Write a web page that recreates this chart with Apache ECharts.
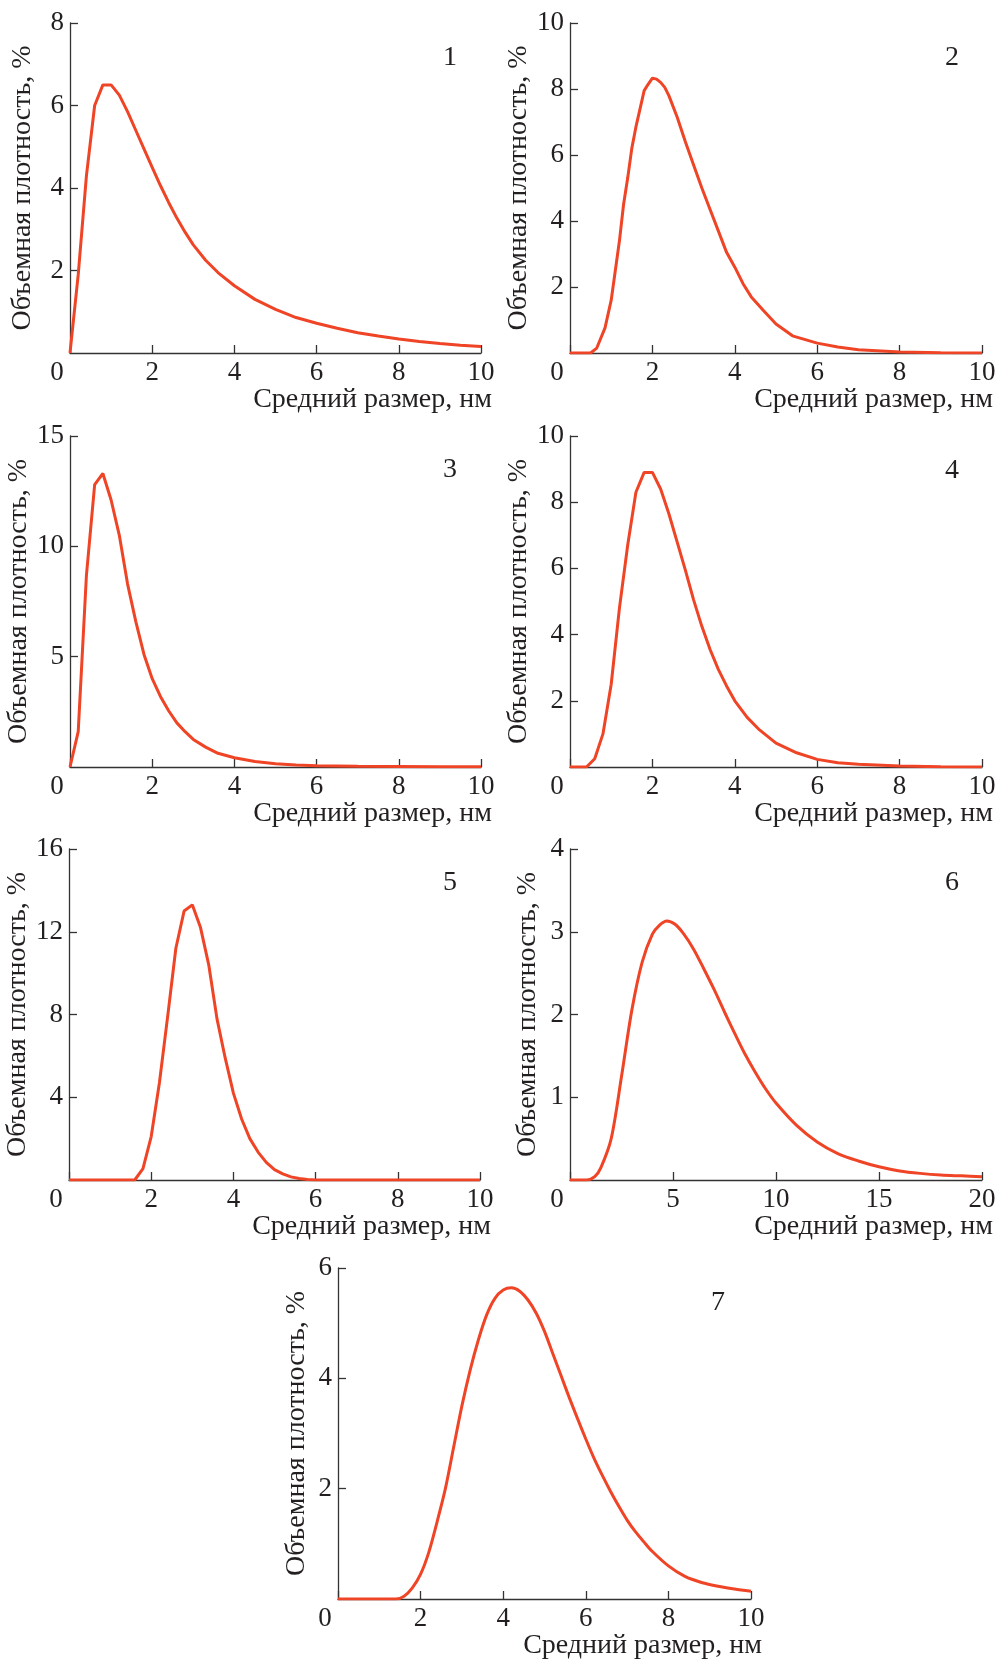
<!DOCTYPE html>
<html>
<head>
<meta charset="utf-8">
<script src="https://cdn.jsdelivr.net/npm/echarts/dist/echarts.min.js"></script>
<style>
  html, body { margin: 0; padding: 0; background: #fff; }
  #chart { width: 1000px; height: 1663px; }
</style>
</head>
<body>
<div id="chart"></div>
<script>
// размеры, нм и объемная плотность, % (по графикам 1-7)
const x1 = [0,0.2,0.4,0.6,0.8,1.0,1.2,1.4,1.6,1.8,2.0,2.2,2.4,2.6,2.8,3.0,3.3,3.6,4.0,4.5,5.0,5.5,6.0,6.5,7.0,7.5,8.0,8.5,9.0,9.5,10];
const y1 = [0,1.9,4.3,6.0,6.5,6.5,6.25,5.85,5.4,4.95,4.5,4.06,3.65,3.27,2.93,2.62,2.25,1.95,1.63,1.3,1.06,0.86,0.72,0.6,0.49,0.41,0.34,0.28,0.23,0.19,0.16];

const x2 = [0,0.5,0.65,0.85,1.0,1.1,1.2,1.3,1.4,1.5,1.6,1.7,1.8,1.9,2.0,2.1,2.2,2.3,2.4,2.6,2.8,3.0,3.2,3.4,3.6,3.8,4.0,4.2,4.4,4.7,5.0,5.4,6.0,6.5,7,8,9,10];
const y2 = [0,0,0.15,0.76,1.6,2.5,3.4,4.5,5.3,6.2,6.85,7.4,7.95,8.15,8.33,8.3,8.2,8.05,7.8,7.15,6.4,5.7,5.0,4.35,3.7,3.05,2.6,2.1,1.7,1.28,0.88,0.52,0.3,0.18,0.1,0.03,0.01,0];

const x3 = [0,0.2,0.4,0.6,0.8,1.0,1.2,1.4,1.6,1.8,2.0,2.2,2.4,2.6,2.8,3.0,3.3,3.6,4.0,4.5,5.0,5.5,6,7,8,9,10];
const y3 = [0,1.6,8.7,12.8,13.3,12.1,10.5,8.3,6.6,5.1,4.0,3.2,2.55,2.0,1.6,1.25,0.9,0.62,0.42,0.25,0.15,0.09,0.06,0.03,0.02,0.01,0.01];

const x4 = [0,0.4,0.6,0.8,1.0,1.2,1.4,1.6,1.8,2.0,2.2,2.4,2.6,2.8,3.0,3.2,3.4,3.6,3.8,4.0,4.3,4.6,5.0,5.5,6.0,6.5,7,8,9,10];
const y4 = [0,0,0.25,1.0,2.5,4.8,6.7,8.3,8.9,8.9,8.4,7.65,6.8,5.95,5.05,4.25,3.55,2.95,2.45,2.0,1.5,1.12,0.72,0.43,0.23,0.13,0.08,0.03,0.01,0];

const x5 = [0,1.6,1.8,2.0,2.2,2.4,2.6,2.8,3.0,3.2,3.4,3.6,3.8,4.0,4.2,4.4,4.6,4.8,5.0,5.2,5.4,5.6,5.8,6,7,8,9,10];
const y5 = [0,0,0.55,2.1,4.7,7.9,11.2,13.0,13.3,12.2,10.4,7.8,5.9,4.2,2.95,2.0,1.35,0.85,0.5,0.3,0.15,0.07,0.02,0,0,0,0,0];

const x6 = [0,0.8,1.2,1.5,2,2.5,3,3.5,4,4.35,4.7,5.1,5.5,6,6.5,7,7.5,8,8.5,9,9.5,10,11,12,13,14,15,16,17,18,19,20];
const y6 = [0,0,0.04,0.15,0.5,1.25,2.05,2.63,2.97,3.08,3.13,3.09,2.98,2.79,2.55,2.3,2.03,1.77,1.52,1.3,1.1,0.93,0.66,0.46,0.32,0.23,0.16,0.11,0.08,0.06,0.05,0.04];

const x7 = [0,1.4,1.6,1.8,2.0,2.2,2.4,2.6,2.8,3.0,3.2,3.4,3.6,3.8,4.0,4.2,4.4,4.6,4.8,5.0,5.2,5.4,5.6,5.8,6.0,6.2,6.4,6.6,6.8,7.0,7.2,7.4,7.6,8.0,8.4,8.8,9.2,9.6,10];
const y7 = [0,0,0.05,0.2,0.45,0.85,1.4,2.0,2.75,3.5,4.15,4.7,5.15,5.45,5.6,5.64,5.58,5.42,5.18,4.85,4.45,4.05,3.65,3.27,2.9,2.55,2.24,1.95,1.68,1.43,1.22,1.04,0.87,0.6,0.41,0.3,0.23,0.18,0.14];

// оси
const xMax = [10, 10, 10, 10, 10, 20, 10];
const xStep = [2, 2, 2, 2, 2, 5, 2];
const yMax = [8, 10, 15, 10, 16, 4, 6];
const yStep = [2, 2, 5, 2, 4, 1, 2];
const panelNames = ['1', '2', '3', '4', '5', '6', '7'];

const xTitle = 'Средний размер, нм';
const yTitle = 'Объемная плотность, %';

const xs = [x1, x2, x3, x4, x5, x6, x7];
const ys = [y1, y2, y3, y4, y5, y6, y7];

// положение панелей
const grids = [
  { left: 70, top: 23, width: 411, height: 330 },
  { left: 570, top: 23, width: 412, height: 330 },
  { left: 70, top: 436, width: 411, height: 331 },
  { left: 570, top: 436, width: 412, height: 331 },
  { left: 69, top: 849, width: 411, height: 331 },
  { left: 570, top: 849, width: 412, height: 331 },
  { left: 338, top: 1268, width: 413, height: 331 }
];
const yNameGap = [33, 28, 33, 28, 32, 28, 27];
const labelPos = [[450, 58], [952, 58], [450, 470], [952, 471], [450, 883], [952, 883], [718, 1303]];

const font = 'Liberation Serif';
const ink = '#231f20';
const red = '#ef4426';

const xAxis = [], yAxis = [], series = [], graphic = [];
for (let i = 0; i < 7; i++) {
  xAxis.push({
    type: 'value',
    gridIndex: i,
    min: 0,
    max: xMax[i],
    interval: xStep[i],
    name: xTitle,
    nameLocation: 'end',
    nameGap: 11,
    nameTextStyle: {
      fontFamily: font, fontSize: 28, color: ink,
      align: 'right', verticalAlign: 'top', padding: [33, 0, 0, 0]
    },
    axisLine: { lineStyle: { color: '#333', width: 1.3 } },
    axisTick: { inside: true, length: 8, lineStyle: { color: '#333', width: 1.3 } },
    splitLine: { show: false },
    axisLabel: {
      margin: 6,
      fontFamily: font, fontSize: 27, color: ink,
      formatter: function (v) { return v === 0 ? '{z|0}' : String(v); },
      rich: { z: { fontFamily: font, fontSize: 27, color: ink, padding: [0, 26, 0, 0] } }
    }
  });
  yAxis.push({
    type: 'value',
    gridIndex: i,
    min: 0,
    max: yMax[i],
    interval: yStep[i],
    name: yTitle,
    nameLocation: 'middle',
    nameGap: yNameGap[i],
    nameTextStyle: { fontFamily: font, fontSize: 28, color: ink },
    axisLine: { show: true, lineStyle: { color: '#333', width: 1.3 } },
    axisTick: { show: true, inside: true, length: 8, lineStyle: { color: '#333', width: 1.3 } },
    splitLine: { show: false },
    axisLabel: { margin: 6, showMinLabel: false, fontFamily: font, fontSize: 27, color: ink }
  });
  series.push({
    type: 'line',
    xAxisIndex: i,
    yAxisIndex: i,
    data: xs[i].map((x, k) => [x, ys[i][k]]),
    showSymbol: false,
    smooth: i >= 5 ? 0.3 : false,
    lineStyle: { color: red, width: 3 },
    animation: false
  });
  graphic.push({
    type: 'text',
    x: labelPos[i][0],
    y: labelPos[i][1],
    style: {
      text: panelNames[i],
      font: '28px "Liberation Serif"',
      fill: ink,
      textAlign: 'center',
      textVerticalAlign: 'middle'
    }
  });
}

const option = {
  backgroundColor: '#fff',
  animation: false,
  grid: grids,
  xAxis: xAxis,
  yAxis: yAxis,
  series: series,
  graphic: graphic
};

const chart = echarts.init(document.getElementById('chart'));
chart.setOption(option);
</script>
</body>
</html>
